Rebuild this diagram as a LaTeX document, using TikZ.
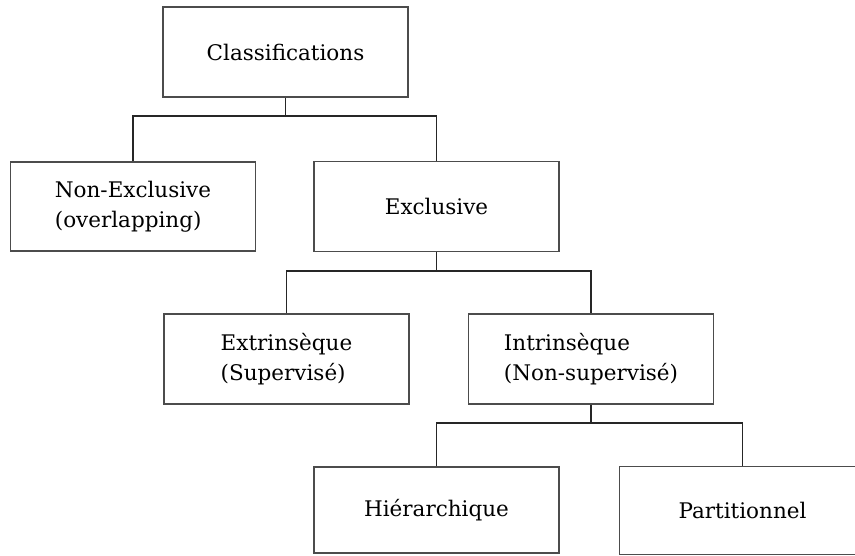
\documentclass[tikz,border=0pt]{standalone}
\usepackage{fontspec}
\setmainfont{DejaVu Serif}
\begin{document}
\begin{tikzpicture}[x=1pt,y=-1pt,
  boxline/.style={draw=black!70, line width=1.3pt},
  box/.style={boxline, fill=white, minimum width=245pt, inner sep=0pt,
    font=\fontsize{21.5}{30}\selectfont, align=left},
  conn/.style={draw=black!85, line width=1.4pt}]
\useasboundingbox (0,0) rectangle (855,556);
\node[box, minimum height=90pt] (cls) at (285.5,52) {Classifications};
\node[box, minimum height=89pt] (nonex) at (133,206.5) {Non-Exclusive\\(overlapping)};
\node[box, minimum height=90pt] (excl) at (436.5,206.5) {Exclusive};
\node[box, minimum height=90pt] (extr) at (286.5,359) {Extrinsèque\\(Supervisé)};
\node[box, minimum height=90pt] (intr) at (591,359) {Intrinsèque\\(Non-supervisé)};
\node[box, minimum height=86pt] (hier) at (436.5,510) {Hiérarchique};
\node[box, draw=none, minimum height=87pt] (part) at (742.5,510.5) {Partitionnel};
\draw[boxline] ([xshift=20pt]part.north east) -- (part.north west) -- (part.south west) -- ([xshift=20pt]part.south east);
\coordinate (j1) at (285.5,116);
\coordinate (j2) at (436.5,271);
\coordinate (j3) at (591,423);
\draw[conn] (cls.south) -- (j1);
\draw[conn] (nonex.north) |- (j1) -| (excl.north);
\draw[conn] (excl.south) -- (j2);
\draw[conn] (extr.north) |- (j2) -| (intr.north);
\draw[conn] (intr.south) -- (j3);
\draw[conn] (hier.north) |- (j3) -| (part.north);
\end{tikzpicture}
\end{document}
